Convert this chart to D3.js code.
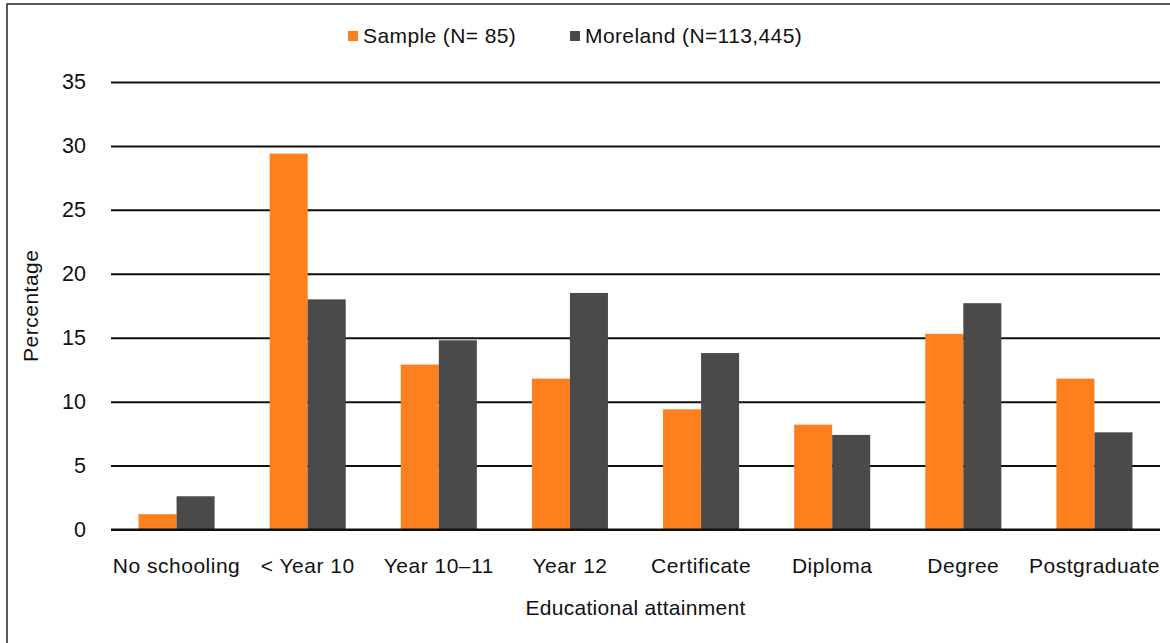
<!DOCTYPE html>
<html>
<head>
<meta charset="utf-8">
<script src="https://cdn.jsdelivr.net/npm/d3@7"></script>
<style>
  body { margin: 0; background: #fff; }
  text { font-family: "Liberation Sans", Arial, sans-serif; fill: #111; }
</style>
</head>
<body>
<div id="chart"></div>
<script>
// data
var categories = ["No schooling", "< Year 10", "Year 10\u201311", "Year 12", "Certificate", "Diploma", "Degree", "Postgraduate"];
var sampleValues = [1.2, 29.4, 12.9, 11.8, 9.4, 8.2, 15.3, 11.8];
var morelandValues = [2.6, 18.0, 14.8, 18.5, 13.8, 7.4, 17.7, 7.6];
var seriesNames = ["Sample (N= 85)", "Moreland (N=113,445)"];
var yTicks = [0, 5, 10, 15, 20, 25, 30, 35];

var colors = ["#fd7f1e", "#4a4a4a"];

var W = 1170, H = 643;
var margin = {top: 82, right: 10, bottom: 113.5, left: 111};

var svg = d3.select("#chart").append("svg")
    .attr("width", W)
    .attr("height", H);

// outer frame
svg.append("rect")
    .attr("x", 7).attr("y", 4)
    .attr("width", W).attr("height", H)
    .attr("fill", "none")
    .attr("stroke", "#222")
    .attr("stroke-width", 1.5);

var rows = categories.map(function(c, i) {
  return {cat: c, vals: [sampleValues[i], morelandValues[i]]};
});

var x0 = d3.scaleBand()
    .domain(categories)
    .range([margin.left, W - margin.right])
    .paddingInner(0.42)
    .paddingOuter(0.21);

var x1 = d3.scaleBand()
    .domain([0, 1])
    .range([0, x0.bandwidth()]);

var y = d3.scaleLinear()
    .domain([0, 35])
    .range([H - margin.bottom, margin.top]);

// gridlines
var yAxis = svg.append("g")
    .attr("transform", "translate(" + margin.left + ",0)")
    .call(d3.axisLeft(y).tickValues(yTicks).tickSize(-(W - margin.right - margin.left)).tickPadding(25));
yAxis.select(".domain").remove();
yAxis.selectAll(".tick line").attr("stroke", "#111").attr("stroke-width", 2);
yAxis.selectAll(".tick text")
    .style("font-size", "21.5px")
    .attr("fill", "#111");

// bars
var groups = svg.append("g")
  .selectAll("g")
  .data(rows)
  .enter()
  .append("g")
    .attr("transform", function(d) { return "translate(" + x0(d.cat) + ",0)"; });

groups.selectAll("rect")
  .data(function(d) { return d.vals; })
  .enter()
  .append("rect")
    .attr("x", function(d, i) { return x1(i); })
    .attr("y", function(d) { return y(d); })
    .attr("width", x1.bandwidth())
    .attr("height", function(d) { return y(0) - y(d); })
    .attr("fill", function(d, i) { return colors[i]; });

// baseline on top of bars
svg.append("line")
    .attr("x1", margin.left).attr("x2", W - margin.right)
    .attr("y1", y(0)).attr("y2", y(0))
    .attr("stroke", "#111").attr("stroke-width", 2);

// category labels
svg.append("g")
  .selectAll("text")
  .data(categories)
  .enter()
  .append("text")
    .attr("x", function(d) { return x0(d) + x0.bandwidth() / 2; })
    .attr("y", 573)
    .attr("text-anchor", "middle")
    .style("font-size", "21px")
    .style("letter-spacing", "0.5px")
    .text(function(d) { return d; });

// axis titles
svg.append("text")
    .attr("x", (margin.left + W - margin.right) / 2)
    .attr("y", 615)
    .attr("text-anchor", "middle")
    .style("font-size", "21px")
    .style("letter-spacing", "0.3px")
    .text("Educational attainment");

svg.append("text")
    .attr("transform", "translate(38," + ((y(0) + y(35)) / 2) + ") rotate(-90)")
    .attr("text-anchor", "middle")
    .style("font-size", "21px")
    .style("letter-spacing", "0.5px")
    .text("Percentage");

// legend
var legendX = [348, 570];
var legend = svg.append("g")
  .selectAll("g")
  .data(seriesNames)
  .enter()
  .append("g")
    .attr("transform", function(d, i) { return "translate(" + legendX[i] + ",31)"; });

legend.append("rect")
    .attr("width", 10).attr("height", 10)
    .attr("fill", function(d, i) { return colors[i]; });

legend.append("text")
    .attr("x", 15)
    .attr("y", 12)
    .style("font-size", "21px")
    .style("letter-spacing", "0.4px")
    .text(function(d) { return d; });
</script>
</body>
</html>
